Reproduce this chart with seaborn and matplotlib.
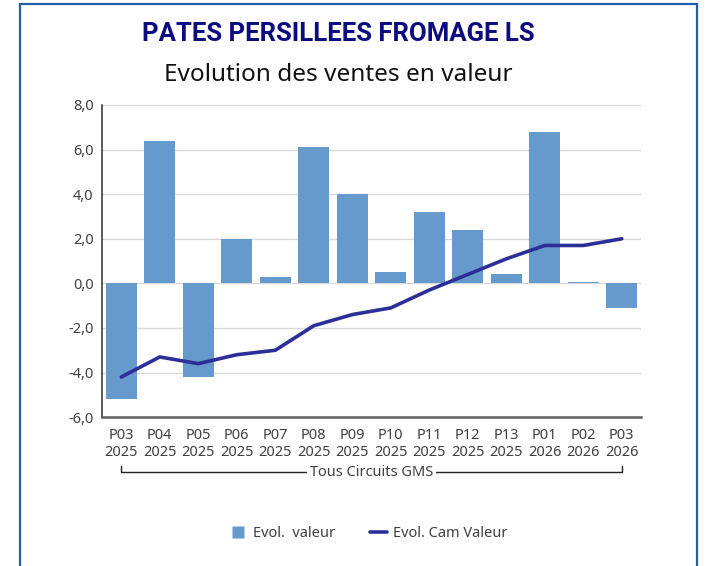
import numpy as np
import pandas as pd
import matplotlib.pyplot as plt
import matplotlib.transforms as mtransforms
from matplotlib.patches import Rectangle
from matplotlib.lines import Line2D
import seaborn as sns

# ── Data ────────────────────────────────────────────────────────────────
periods = ['P03', 'P04', 'P05', 'P06', 'P07', 'P08', 'P09',
           'P10', 'P11', 'P12', 'P13', 'P01', 'P02', 'P03']
years = ['2025'] * 11 + ['2026'] * 3
evol_valeur = [-5.2, 6.4, -4.2, 2.0, 0.3, 6.1, 4.0, 0.5, 3.2, 2.4, 0.4, 6.8, 0.05, -1.1]
evol_cam = [-4.2, -3.3, -3.6, -3.2, -3.0, -1.9, -1.4, -1.1, -0.3, 0.4, 1.1, 1.7, 1.7, 2.0]
yticks = [-6, -4, -2, 0, 2, 4, 6, 8]

labels = [f'{p}\n{y}' for p, y in zip(periods, years)]
df = pd.DataFrame({'label': labels, 'pos': np.arange(len(labels)),
                   'valeur': evol_valeur, 'cam': evol_cam})

bar_color = '#6699cc'
line_color = '#2e2e99'
text_gray = '#404040'

sns.set_style('white')
plt.rcParams['font.family'] = ['Noto Sans', 'DejaVu Sans']

fig = plt.figure(figsize=(7.06, 5.66), dpi=100)
ax = fig.add_axes([0.1445, 0.263, 0.7635, 0.5515])

# ── Bars + line ─────────────────────────────────────────────────────────
sns.barplot(data=df, x='pos', y='valeur', color=bar_color, saturation=1,
            width=0.8, linewidth=0, ax=ax, native_scale=True)
sns.lineplot(data=df, x='pos', y='cam', color=line_color, linewidth=2.6,
             sort=False, ax=ax)

ax.set_xlim(-0.5, len(labels) - 0.5)
ax.set_ylim(-6, 8)
ax.set_yticks(yticks)
ax.set_yticklabels([f'{v:.1f}'.replace('.', ',') for v in yticks])
ax.set_xticks(df['pos'])
ax.set_xticklabels(labels)
ax.set_xlabel('')
ax.set_ylabel('')
ax.tick_params(axis='both', length=0, labelsize=10.5, labelcolor=text_gray)
ax.tick_params(axis='x', pad=8)
ax.tick_params(axis='y', pad=6)

ax.grid(axis='y', color='#d9d9d9', linewidth=1)
ax.set_axisbelow(True)
for s in ['top', 'right']:
    ax.spines[s].set_visible(False)
ax.spines['left'].set_color('#404040')
ax.spines['left'].set_linewidth(1.2)
ax.spines['bottom'].set_color('#606060')
ax.spines['bottom'].set_linewidth(1.8)

# ── Group bracket under the axis ────────────────────────────────────────
trans = mtransforms.blended_transform_factory(ax.transData, ax.transAxes)
yb, yt = -0.177, -0.155
ax.plot([0, 0, 13, 13], [yt, yb, yb, yt], color='#202020', linewidth=1,
        transform=trans, clip_on=False)
ax.text(6.5, yb, 'Tous Circuits GMS', transform=trans, ha='center', va='center',
        fontsize=10.5, color=text_gray,
        bbox=dict(facecolor='white', edgecolor='none', pad=2))

# ── Titles ──────────────────────────────────────────────────────────────
fig.text(0.479, 0.94, 'PATES PERSILLEES FROMAGE LS', ha='center', va='center',
         fontsize=18.5, fontweight='bold', color='#0c0c80', family=['Roboto'])
fig.text(0.479, 0.867, 'Evolution des ventes en valeur', ha='center', va='center',
         fontsize=17.5, color='#111111')

# ── Legend ──────────────────────────────────────────────────────────────
handles = [Line2D([0], [0], marker='s', linestyle='none', markersize=8,
                  markerfacecolor=bar_color, markeredgecolor='none', label='Evol.  valeur'),
           Line2D([0], [0], color=line_color, linewidth=2.6, label='Evol. Cam Valeur')]
fig.legend(handles=handles, loc='center', bbox_to_anchor=(0.522, 0.058), ncol=2,
           frameon=False, fontsize=10.5, labelcolor=text_gray, columnspacing=2.4,
           handlelength=1.2, handletextpad=0.4)

# ── Blue frame ──────────────────────────────────────────────────────────
fig.patches.append(Rectangle((20 / 706, -0.05), 677 / 706, 1.05 - 4 / 566,
                             transform=fig.transFigure, fill=False,
                             edgecolor='#1f5fae', linewidth=1.6))

plt.savefig('out.png', dpi=100)
